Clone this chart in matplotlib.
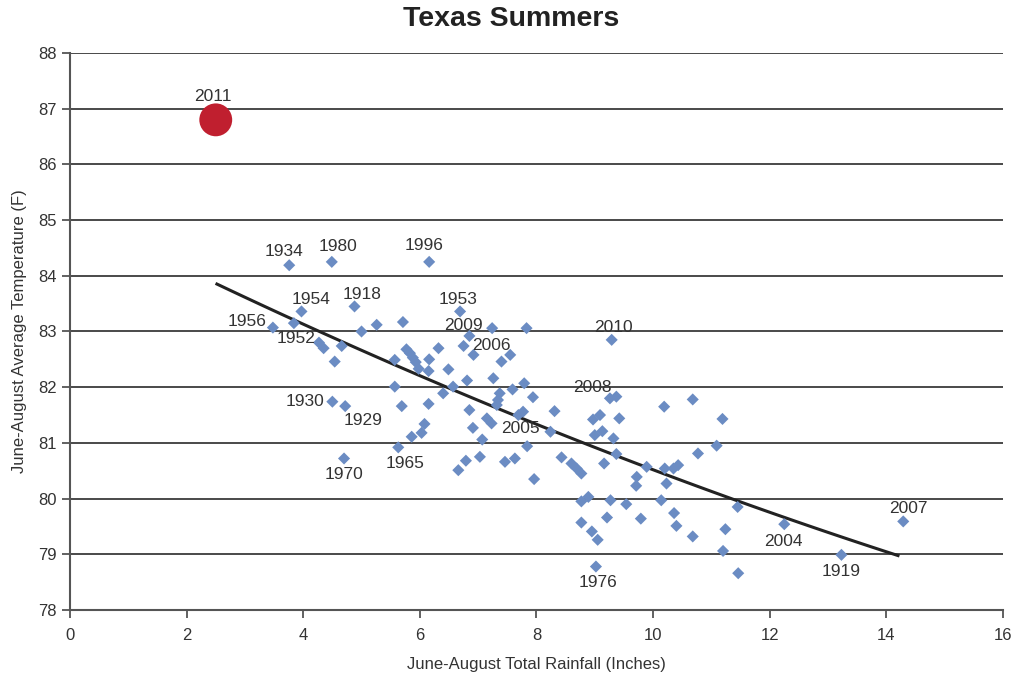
import numpy as np
import matplotlib
matplotlib.use("Agg")
import matplotlib.pyplot as plt

plt.rcParams['font.family'] = ['Liberation Sans', 'DejaVu Sans']

# June-August rainfall (inches) and average temperature (F), one point per summer
rain = [3.76, 4.49, 6.16, 4.88, 3.97, 3.48, 3.84, 5.00, 5.26, 5.71,
        4.27, 4.35, 4.66, 4.54, 5.57, 5.77, 5.83, 5.88, 5.93, 5.98,
        6.15, 6.16, 6.32, 6.49, 6.81, 6.69, 6.85, 6.75, 6.92, 7.24,
        7.83, 7.26, 7.40, 7.55, 7.59, 7.37, 7.34, 7.32, 5.57, 4.50,
        4.72, 5.69, 6.15, 6.85, 6.57, 6.40, 7.15, 7.23, 6.08, 6.91,
        6.03, 5.86, 5.63, 4.70, 6.79, 6.66, 7.03, 7.46, 7.63, 7.07,
        7.79, 7.94, 7.69, 7.77, 8.31, 7.84, 8.24, 7.96, 8.43, 8.60,
        8.69, 8.77, 8.97, 9.09, 9.00, 9.13, 9.29, 9.26, 9.37, 9.32,
        9.16, 8.77, 8.89, 9.27, 10.19, 10.68, 11.19, 11.09, 10.77, 9.42,
        9.37, 9.89, 9.72, 9.71, 10.20, 10.23, 10.35, 10.43, 9.54, 10.14,
        11.45, 8.77, 8.95, 9.05, 9.21, 9.79, 10.36, 10.40, 10.68, 11.24,
        11.20, 9.02, 11.46, 12.25, 13.23, 14.29]
temp = [84.19, 84.25, 84.25, 83.45, 83.36, 83.07, 83.15, 83.00, 83.12, 83.17,
        82.80, 82.70, 82.74, 82.46, 82.49, 82.68, 82.61, 82.53, 82.45, 82.33,
        82.29, 82.50, 82.70, 82.32, 82.12, 83.36, 82.92, 82.74, 82.58, 83.06,
        83.06, 82.16, 82.46, 82.58, 81.96, 81.89, 81.77, 81.68, 82.01, 81.74,
        81.66, 81.66, 81.70, 81.59, 82.01, 81.89, 81.44, 81.35, 81.34, 81.27,
        81.18, 81.11, 80.92, 80.72, 80.68, 80.51, 80.75, 80.66, 80.72, 81.06,
        82.07, 81.82, 81.50, 81.56, 81.57, 80.94, 81.20, 80.35, 80.74, 80.63,
        80.54, 80.45, 81.42, 81.50, 81.14, 81.21, 82.85, 81.80, 81.83, 81.08,
        80.63, 79.95, 80.03, 79.97, 81.65, 81.78, 81.43, 80.95, 80.81, 81.44,
        80.80, 80.57, 80.39, 80.23, 80.54, 80.27, 80.54, 80.60, 79.90, 79.97,
        79.85, 79.57, 79.41, 79.26, 79.66, 79.64, 79.74, 79.51, 79.32, 79.45,
        79.06, 78.78, 78.66, 79.54, 78.99, 79.59]

# 2011 drawn on its own
rain_2011 = 2.50
temp_2011 = 86.8

# labelled summers: index into rain/temp
label_years = ["1934", "1980", "1996", "1954", "1918", "1953", "1956", "2009",
               "2010", "1952", "2006", "2008", "1930", "1929", "2005", "1965",
               "1970", "1976", "2004", "1919", "2007"]
label_idx = [0, 1, 2, 4, 3, 25, 5, 26, 76, 6, 32, 77, 39, 40, 65, 52,
             53, 111, 113, 114, 115]
# label offsets in pixels from the point
label_off = [(-5, 14), (6, 15), (-5, 16), (10, 12), (8, 12), (-2, 12),
             (-26, 6), (-6, 10), (2, 12), (2, -15), (-10, 16), (-18, 11),
             (-27, 0), (18, -14), (-7, 18), (7, -16), (0, -16), (2, -16),
             (-1, -17), (0, -17), (5, 13)]

# trend line
trend_x = [2.52, 4.29, 6.47, 8.75, 11.4, 14.2]
trend_y = [83.85, 83.0, 82.0, 81.0, 80.0, 78.97]

fig = plt.figure(figsize=(10.23, 6.77), dpi=100)
ax = fig.add_axes([0.0684, 0.099, 0.912, 0.8227])

ax.set_xlim(0, 16)
ax.set_ylim(78, 88)
ax.set_xticks(range(0, 17, 2))
ax.set_yticks(range(78, 89))

ax.grid(axis='y', color='#3a3a3a', linewidth=1.3, zorder=0)
ax.set_axisbelow(True)
for s in ['top', 'right']:
    ax.spines[s].set_visible(False)
for s in ['left', 'bottom']:
    ax.spines[s].set_color('#555555')
    ax.spines[s].set_linewidth(1.5)
ax.tick_params(axis='both', direction='out', length=6, width=1.3,
               color='#555555', labelsize=12, labelcolor='#333333')
ax.tick_params(axis='x', pad=7)

# trend
coef = np.polyfit(trend_x, trend_y, 2)
tx = np.linspace(trend_x[0], trend_x[-1], 100)
ax.plot(tx, np.polyval(coef, tx), color='#222222', linewidth=2.2, zorder=3)

ax.scatter(rain, temp, marker='D', s=38, color='#6b8cc3', edgecolors='none', zorder=4)
ax.scatter([rain_2011], [temp_2011], marker='o', s=560, color='#c01f2f',
           edgecolors='none', zorder=5)

ax.annotate("2011", (rain_2011, temp_2011), xytext=(-3, 23), textcoords='offset pixels',
            ha='center', va='center', fontsize=12.5, color='#333333')
for yr, i, off in zip(label_years, label_idx, label_off):
    ax.annotate(yr, (rain[i], temp[i]), xytext=off, textcoords='offset pixels',
                ha='center', va='center', fontsize=12.5, color='#333333', zorder=6)

fig.text(0.5, 1 - 19 / 677, "Texas Summers", ha='center', va='center',
         fontsize=20.5, fontweight='bold', color='#222222')
ax.set_xlabel("June-August Total Rainfall (Inches)", fontsize=12, color='#333333', labelpad=10)
ax.set_ylabel("June-August Average Temperature (F)", fontsize=12, color='#333333', labelpad=8)

fig.savefig("out.png", dpi=100)
